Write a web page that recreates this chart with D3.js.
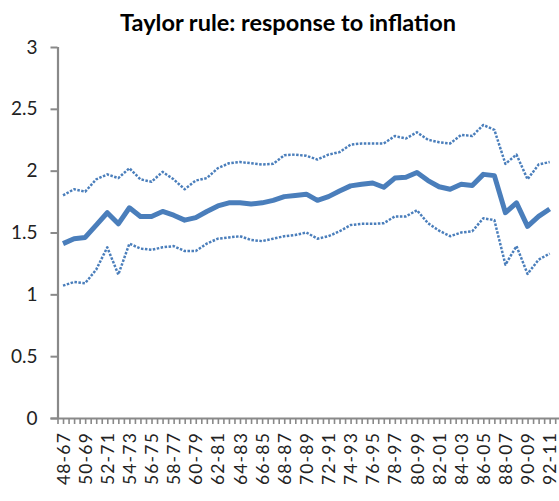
<!DOCTYPE html>
<html>
<head>
<meta charset="utf-8">
<script src="https://cdn.jsdelivr.net/npm/d3@7"></script>
<style>
  html, body { margin: 0; padding: 0; background: #fff; }
  svg { display: block; }
</style>
</head>
<body>
<svg id="chart" width="559" height="501"></svg>
<script>
// ---- data ----
const title = "Taylor rule: response to inflation";
const categories = [
  "48-67","49-68","50-69","51-70","52-71","53-72","54-73","55-74","56-75","57-76",
  "58-77","59-78","60-79","61-80","62-81","63-82","64-83","65-84","66-85","67-86",
  "68-87","69-88","70-89","71-90","72-91","73-92","74-93","75-94","76-95","77-96",
  "78-97","79-98","80-99","81-00","82-01","83-02","84-03","85-04","86-05","87-06",
  "88-07","89-08","90-09","91-10","92-11"
];
const estimate = [
  1.41,1.45,1.46,1.56,1.66,1.57,1.70,1.63,1.63,1.67,
  1.64,1.60,1.62,1.67,1.715,1.74,1.74,1.73,1.74,1.76,
  1.79,1.80,1.81,1.76,1.79,1.835,1.877,1.89,1.90,1.866,
  1.94,1.947,1.985,1.92,1.87,1.85,1.89,1.88,1.97,1.96,
  1.66,1.74,1.55,1.63,1.69
];
const upperBand = [
  1.80,1.85,1.83,1.93,1.97,1.94,2.02,1.93,1.91,1.99,
  1.93,1.85,1.92,1.94,2.02,2.06,2.07,2.06,2.05,2.055,
  2.125,2.13,2.12,2.09,2.13,2.15,2.21,2.22,2.22,2.22,
  2.28,2.26,2.31,2.25,2.23,2.22,2.29,2.28,2.37,2.33,
  2.055,2.13,1.93,2.05,2.07
];
const lowerBand = [
  1.07,1.10,1.09,1.20,1.38,1.16,1.41,1.37,1.36,1.38,
  1.39,1.35,1.35,1.41,1.45,1.46,1.47,1.44,1.43,1.45,
  1.47,1.48,1.50,1.45,1.47,1.51,1.56,1.57,1.57,1.575,
  1.63,1.63,1.68,1.575,1.515,1.47,1.50,1.51,1.615,1.60,
  1.24,1.39,1.165,1.28,1.33
];
const yTicks = [0, 0.5, 1, 1.5, 2, 2.5, 3];

// ---- layout ----
const svg = d3.select("#chart");
const left = 57.5, bandW = 11.06;
const plotTop = 47, plotBottom = 418;

const x = d3.scaleLinear()
  .domain([0, categories.length])
  .range([left, left + categories.length * bandW]);
const y = d3.scaleLinear().domain([0, 3]).range([plotBottom, plotTop]);

const blue = "#4a7ebb";
const axisColor = "#898989";
const fontFam = "Lato, 'Open Sans', 'DejaVu Sans', sans-serif";

// title
svg.append("text")
  .attr("x", 288).attr("y", 31)
  .attr("text-anchor", "middle")
  .style("font-family", fontFam)
  .style("font-weight", "bold")
  .style("font-size", "23.5px")
  .attr("fill", "#000")
  .text(title);

// y axis
const yAxis = svg.append("g")
  .attr("transform", `translate(${left},0)`)
  .call(d3.axisLeft(y).tickValues(yTicks).tickSize(7).tickPadding(13)
        .tickFormat(d3.format("")));
yAxis.select(".domain").attr("stroke", axisColor).attr("stroke-width", 2.2)
  .attr("d", `M0.5,${plotTop}V${plotBottom}`);
yAxis.selectAll(".tick line").attr("stroke", axisColor).attr("stroke-width", 2);
yAxis.selectAll(".tick text")
  .style("font-family", fontFam).style("font-size", "19px").attr("fill", "#222");

// x axis: tick marks every half category
const halfTicks = d3.range(0, categories.length + 0.01, 0.5);
const xAxis = svg.append("g")
  .attr("transform", `translate(0,${plotBottom})`)
  .call(d3.axisBottom(x).tickValues(halfTicks).tickSize(6).tickFormat(""));
xAxis.select(".domain").attr("stroke", axisColor).attr("stroke-width", 2.2)
  .attr("d", `M${left - 7},0.5H${x(categories.length) + 10}`);
xAxis.selectAll(".tick line").attr("stroke", axisColor).attr("stroke-width", 1.6);

// x labels every other category
const labelIdx = d3.range(0, categories.length, 2);
const xLab = svg.append("g")
  .attr("transform", `translate(0,${plotBottom})`)
  .call(d3.axisBottom(x).tickValues(labelIdx.map(i => i + 0.5)).tickSize(0)
        .tickFormat(v => categories[Math.round(v - 0.5)]));
xLab.select(".domain").remove();
xLab.selectAll(".tick text")
  .style("font-family", fontFam).style("font-size", "17.5px").attr("fill", "#222")
  .style("letter-spacing", "1.2px")
  .attr("text-anchor", "end")
  .attr("dy", "0.35em")
  .attr("transform", "translate(0,14) rotate(-90)")
  .attr("x", 0).attr("y", 0);

// lines
const line = d3.line()
  .x((d, i) => x(i + 0.5))
  .y(d => y(d));

svg.append("path").datum(upperBand)
  .attr("fill", "none").attr("stroke", blue).attr("stroke-width", 2.5)
  .attr("stroke-dasharray", "2.5,1.5").attr("stroke-linejoin", "round")
  .attr("d", line);
svg.append("path").datum(lowerBand)
  .attr("fill", "none").attr("stroke", blue).attr("stroke-width", 2.5)
  .attr("stroke-dasharray", "2.5,1.5").attr("stroke-linejoin", "round")
  .attr("d", line);
svg.append("path").datum(estimate)
  .attr("fill", "none").attr("stroke", blue).attr("stroke-width", 5)
  .attr("stroke-linejoin", "round")
  .attr("d", line);
</script>
</body>
</html>
